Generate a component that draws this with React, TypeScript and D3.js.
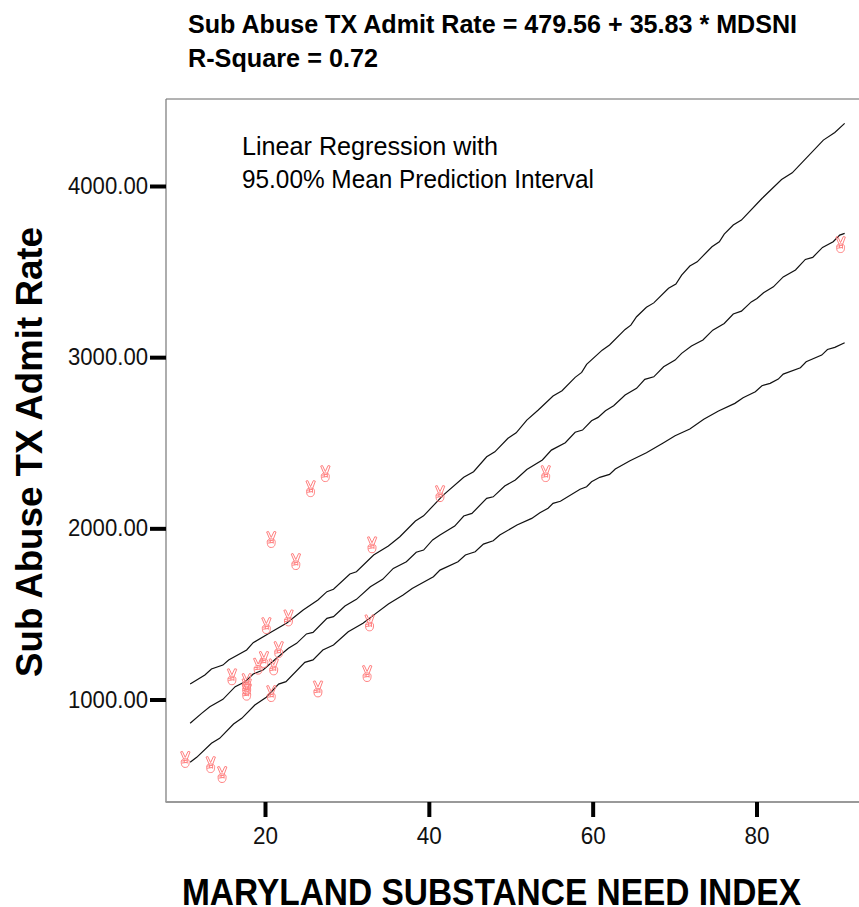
import React, { useEffect, useRef } from "react";
import * as d3 from "d3";

const xTicks = [20, 40, 60, 80];
const yTicks = [1000, 2000, 3000, 4000];

const pointX = [10.2, 13.3, 14.7, 15.9, 17.7, 17.7, 17.7, 19.1, 19.8, 21.0, 21.6, 20.7, 20.1, 22.8, 26.4, 32.4, 32.7, 27.3, 25.5, 20.7, 23.7, 33.0, 41.3, 54.2, 90.2];
const pointY = [650, 620, 562, 1133, 1074, 1105, 1043, 1195, 1234, 1191, 1292, 1035, 1432, 1477, 1062, 1152, 1448, 2320, 2232, 1935, 1806, 1904, 2203, 2320, 3658];

const upperX = [10.8, 12.6, 13.4, 14.8, 15.5, 17.7, 18.5, 20.5, 22.6, 24.6, 26.4, 27.5, 28.3, 30.3, 31.1, 33.2, 35.0, 36.4, 38.3, 39.3, 41.7, 44.2, 45.4, 47.0, 48.0, 49.6, 50.6, 51.9, 53.3, 55.1, 56.2, 57.8, 58.6, 59.2, 61.1, 62.0, 63.9, 64.6, 65.3, 66.5, 67.4, 69.2, 70.1, 70.8, 71.8, 72.7, 74.5, 75.4, 76.0, 77.1, 78.1, 80.6, 83.0, 84.3, 88.1, 89.5, 90.7];
const upperY = [1093, 1146, 1181, 1204, 1234, 1292, 1335, 1391, 1450, 1526, 1584, 1633, 1647, 1736, 1749, 1847, 1900, 1954, 2046, 2076, 2197, 2301, 2334, 2421, 2450, 2529, 2561, 2635, 2694, 2776, 2807, 2885, 2914, 2961, 3044, 3074, 3165, 3190, 3239, 3294, 3320, 3405, 3430, 3482, 3535, 3560, 3648, 3677, 3722, 3775, 3804, 3930, 4041, 4080, 4271, 4316, 4369];

const fitX = [10.8, 12.2, 13.2, 14.8, 16.3, 17.5, 18.5, 19.7, 21.2, 22.8, 23.8, 25.0, 25.8, 27.5, 28.3, 29.7, 31.1, 32.8, 34.3, 35.6, 37.2, 38.4, 39.3, 40.4, 41.3, 43.1, 44.2, 45.2, 47.0, 47.8, 49.2, 50.5, 51.9, 53.8, 54.9, 56.6, 57.8, 58.7, 59.8, 60.6, 61.5, 62.5, 63.9, 65.3, 66.3, 67.4, 68.6, 70.0, 70.8, 72.0, 73.4, 74.6, 76.0, 77.1, 78.1, 79.3, 80.0, 80.8, 82.0, 83.2, 84.7, 85.9, 86.8, 88.0, 89.3, 90.1, 90.7];
const fitY = [864, 922, 961, 1004, 1078, 1107, 1152, 1175, 1238, 1302, 1331, 1386, 1395, 1477, 1487, 1549, 1588, 1662, 1705, 1769, 1808, 1863, 1876, 1935, 1964, 2016, 2075, 2090, 2178, 2187, 2250, 2285, 2347, 2402, 2460, 2503, 2564, 2577, 2631, 2651, 2690, 2719, 2782, 2821, 2873, 2888, 2947, 2986, 3025, 3068, 3103, 3161, 3200, 3255, 3272, 3326, 3346, 3379, 3414, 3472, 3512, 3574, 3586, 3644, 3677, 3716, 3726];

const lowerX = [10.8, 11.6, 13.4, 14.4, 16.1, 17.1, 18.7, 20.1, 21.6, 22.5, 24.8, 25.8, 27.0, 28.3, 30.1, 31.9, 33.2, 35.0, 36.8, 37.9, 40.5, 41.3, 43.5, 44.4, 45.6, 46.6, 47.8, 48.6, 50.7, 52.5, 53.5, 54.5, 55.1, 56.0, 58.4, 59.2, 59.8, 60.8, 62.0, 62.7, 64.5, 66.5, 68.6, 70.0, 71.8, 73.5, 75.3, 77.3, 78.3, 79.8, 80.6, 81.6, 82.6, 83.2, 85.3, 86.0, 87.9, 88.6, 89.5, 90.7];
const lowerY = [636, 665, 747, 776, 860, 893, 971, 1016, 1093, 1107, 1220, 1234, 1292, 1321, 1399, 1448, 1496, 1561, 1613, 1652, 1720, 1759, 1808, 1847, 1866, 1911, 1930, 1964, 2022, 2061, 2094, 2120, 2149, 2161, 2231, 2246, 2275, 2301, 2318, 2349, 2398, 2444, 2503, 2544, 2583, 2640, 2688, 2733, 2766, 2801, 2836, 2850, 2875, 2904, 2941, 2976, 3015, 3048, 3060, 3087];

const FONT = "'Liberation Sans', Arial, sans-serif";

// the SPSS marker is a victory hand, drawn as a custom d3 symbol
const handSymbol = {
  draw(ctx: any) {
    // left finger
    ctx.moveTo(-1.6, -1);
    ctx.lineTo(-4.6, -8);
    ctx.lineTo(-2.8, -8.5);
    ctx.lineTo(0, -2.5);
    // right finger
    ctx.lineTo(2.8, -8.5);
    ctx.lineTo(4.8, -8);
    ctx.lineTo(2, -0.5);
    // palm
    ctx.moveTo(-4, 1.5);
    ctx.bezierCurveTo(-4, -2, 4, -2, 4, 1.5);
    ctx.bezierCurveTo(4, 4.5, 3.6, 7.5, 0, 7.5);
    ctx.bezierCurveTo(-3.6, 7.5, -4, 4.5, -4, 1.5);
    // curled fingers
    ctx.moveTo(-3.8, 1.2);
    ctx.lineTo(2, 0.2);
    ctx.moveTo(-3.6, 3.2);
    ctx.lineTo(2, 2.4);
    ctx.moveTo(2, -0.2);
    ctx.lineTo(2, 3.6);
    ctx.moveTo(-1, -0.4);
    ctx.lineTo(-1, 3);
  },
};

const App = () => {
  const ref = useRef<SVGSVGElement>(null);

  useEffect(() => {
    const svg = d3.select(ref.current);
    svg.selectAll("*").remove();

    const left = 166;
    const top = 99;
    const bottom = 802;
    const right = 859;

    const x = d3.scaleLinear().domain([20, 80]).range([265.5, 757]);
    const y = d3.scaleLinear().domain([1000, 4000]).range([700, 186.5]);

    // frame
    svg.append("line").attr("x1", left).attr("x2", right).attr("y1", top).attr("y2", top).attr("stroke", "#666").attr("stroke-width", 1);
    svg.append("line").attr("x1", left).attr("x2", left).attr("y1", top).attr("y2", bottom).attr("stroke", "#777").attr("stroke-width", 1.2);
    svg.append("line").attr("x1", left - 0.5).attr("x2", right).attr("y1", bottom).attr("y2", bottom).attr("stroke", "#999").attr("stroke-width", 2);

    const xAxis = svg
      .append("g")
      .attr("transform", `translate(0, ${bottom})`)
      .call(d3.axisBottom(x).offset(0).tickValues(xTicks).tickSize(15).tickPadding(10).tickFormat(d3.format("d") as any));
    const yAxis = svg
      .append("g")
      .attr("transform", `translate(${left}, 0)`)
      .call(d3.axisLeft(y).offset(0).tickValues(yTicks).tickSize(16).tickPadding(2).tickFormat(d3.format(".2f") as any));

    [xAxis, yAxis].forEach((axis) => {
      axis.select(".domain").remove();
      axis.selectAll(".tick line").attr("stroke", "#000").attr("stroke-width", 4);
      axis.selectAll("text").style("font-family", FONT).style("font-size", "23.5px").style("fill", "#111").attr("lengthAdjust", "spacingAndGlyphs");
    });
    xAxis.selectAll("text").attr("textLength", 25);
    yAxis.selectAll("text").attr("textLength", 80);

    const lines = [
      [upperX, upperY],
      [fitX, fitY],
      [lowerX, lowerY],
    ];

    lines.forEach(([xs, ys]) => {
      const path = d3
        .line<number>()
        .x((d) => x(d))
        .y((_, i) => y(ys[i]));
      svg
        .append("path")
        .datum(xs)
        .attr("fill", "none")
        .attr("stroke", "#111")
        .attr("stroke-width", 1.2)
        .attr("d", path);
    });

    const hand = d3.symbol().type(handSymbol as any);
    svg
      .selectAll(".hand")
      .data(pointX)
      .enter()
      .append("path")
      .attr("class", "hand")
      .attr("d", hand() as string)
      .attr("transform", (d, i) => `translate(${x(d)}, ${y(pointY[i])})`)
      .attr("fill", "none")
      .attr("stroke", "#ff7f7f")
      .attr("stroke-width", 1);

    const label = (text: string, px: number, py: number, size: number, weight: string, length: number) =>
      svg
        .append("text")
        .attr("x", px)
        .attr("y", py)
        .attr("textLength", length)
        .attr("lengthAdjust", "spacingAndGlyphs")
        .style("font-family", FONT)
        .style("font-size", `${size}px`)
        .style("font-weight", weight)
        .style("fill", "#000")
        .text(text);

    label("Sub Abuse TX Admit Rate = 479.56 + 35.83 * MDSNI", 188, 33, 25.5, "bold", 609);
    label("R-Square = 0.72", 188, 67, 25.5, "bold", 190);
    label("Linear Regression with", 242, 155, 25.5, "normal", 256);
    label("95.00% Mean Prediction Interval", 242, 188, 25.5, "normal", 352);
    label("MARYLAND SUBSTANCE NEED INDEX", 182, 905, 36, "bold", 619);

    svg
      .append("text")
      .attr("transform", "translate(42, 677) rotate(-90)")
      .attr("textLength", 450)
      .attr("lengthAdjust", "spacingAndGlyphs")
      .style("font-family", FONT)
      .style("font-size", "37px")
      .style("font-weight", "bold")
      .style("fill", "#000")
      .text("Sub Abuse TX Admit Rate");
  }, []);

  return <svg ref={ref} width={859} height={907} style={{ position: "absolute", left: 0, top: 0 }} />;
};

export default App;
